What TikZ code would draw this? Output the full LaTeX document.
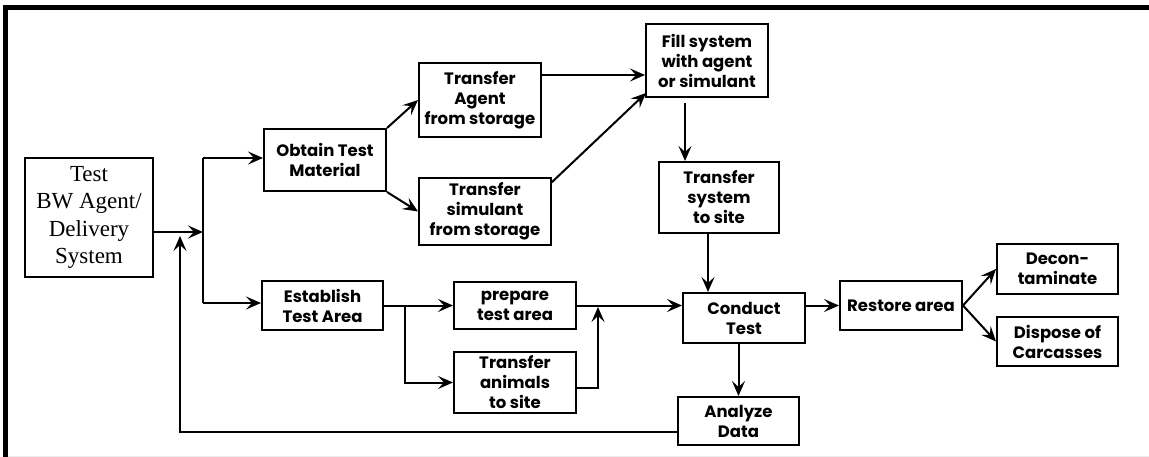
\documentclass[tikz,border=0pt]{standalone}
\usepackage{fontspec}
\setsansfont{Poppins}
\setmainfont{Liberation Serif}
\usetikzlibrary{arrows.meta,calc}

\begin{document}
\begin{tikzpicture}[x=1pt,y=-1pt,
  box/.style={draw=black, line width=2pt, fill=white, rectangle, inner sep=0pt,
    align=center, font=\sffamily\bfseries\fontsize{16.5}{20}\selectfont},
  wire/.style={draw=black, line width=2pt},
  arr/.style={wire, -{Stealth[length=15pt,width=13pt,inset=6pt]}}]

% page and frame
\useasboundingbox (0,0) rectangle (1149,457);
\fill[white] (0,0) rectangle (1149,457);
\draw[line width=5pt] (5.5,457) -- (5.5,7.5) -- (1149,7.5);
\draw[gray!15, line width=1pt] (8,456) -- (1149,456);

% process boxes
\node[box, minimum width=128pt, minimum height=119pt,
  font=\rmfamily\fontsize{23}{27.5}\selectfont] (test) at (89,217.5)
  {Test\\BW Agent/\\Delivery\\System};
\node[box, minimum width=122pt, minimum height=62pt] (obtain) at (325,160) {Obtain Test\\Material};
\node[box, minimum width=122pt, minimum height=74pt] (agent) at (480,100) {Transfer\\Agent\\from storage};
\node[box, minimum width=132pt, minimum height=67pt] (simul) at (485,211.5) {Transfer\\simulant\\from storage};
\node[box, minimum width=122pt, minimum height=73pt] (fill) at (707,60.5) {Fill system\\with agent\\or simulant};
\node[box, minimum width=120pt, minimum height=71pt] (tsys) at (719,197.5) {Transfer\\system\\to site};
\node[box, minimum width=121pt, minimum height=49pt] (estab) at (322.5,305.5) {Establish\\Test Area};
\node[box, minimum width=122pt, minimum height=47pt] (prep) at (515,305.5) {prepare\\test area};
\node[box, minimum width=122pt, minimum height=61pt] (tanim) at (515,382.5) {Transfer\\animals\\to site};
\node[box, minimum width=122pt, minimum height=50pt] (conduct) at (744,318) {Conduct\\Test};
\node[box, minimum width=121pt, minimum height=48pt] (analyze) at (738.5,421) {Analyze\\Data};
\node[box, minimum width=122pt, minimum height=49pt] (restore) at (901,305.5) {Restore area};
\node[box, minimum width=121pt, minimum height=50pt] (decon) at (1057.5,269) {Decon-\\taminate};
\node[box, minimum width=121pt, minimum height=49pt] (dispose) at (1057.5,341.5) {Dispose of\\Carcasses};

% junction points
\coordinate (jin)  at (203,232);
\coordinate (jtop) at (203,158);
\coordinate (jbot) at (203,303);
\coordinate (fbk)  at (180,432);
\coordinate (fbt)  at (180,236);
\coordinate (a1)   at ([yshift=25pt]agent.east);
\coordinate (f1)   at (685,103);
\coordinate (t1)   at (708,233);
\coordinate (j2)   at (405,305.5);
\coordinate (j3)   at (598,388);
\coordinate (j3t)  at (598,307);
\coordinate (s1)   at (551,183);
\coordinate (fsw)  at (646,93);

% split from the test box
\draw[arr] (test.east |- jin) -- (jin);
\draw[wire] (jtop) -- (jbot);
\draw[arr] (jtop) -- (jtop -| obtain.west);
\draw[arr] (jbot) -- (jbot -| estab.west);

% material branch
\draw[arr] (obtain.north east) -- (agent.west);
\draw[arr] (obtain.south east) -- (simul.west);
\draw[arr] (a1) -- (a1 -| fill.west);
\draw[arr] (s1) -- (fsw);
\draw[arr] (f1) -- (f1 |- tsys.north);
\draw[arr] (t1) -- (t1 |- conduct.north);

% test area branch
\draw[arr] (estab.east) -- (prep.west);
\draw[arr] (j2) -- (j2 |- tanim.west) -- (tanim.west);
\draw[arr] (prep.east) -- (prep.east -| conduct.west);
\draw[arr] (tanim.east |- j3) -- (j3) -- (j3t);

% test, data and clean-up
\draw[arr] (conduct.south -| analyze.north) -- (analyze.north);
\draw[arr] (restore.west -| conduct.east) -- (restore.west);
\draw[arr] (restore.east) -- (decon.west);
\draw[arr] (restore.east) -- (dispose.west);

% feedback loop
\draw[arr] (analyze.west |- fbk) -- (fbk) -- (fbt);
\end{tikzpicture}
\end{document}
